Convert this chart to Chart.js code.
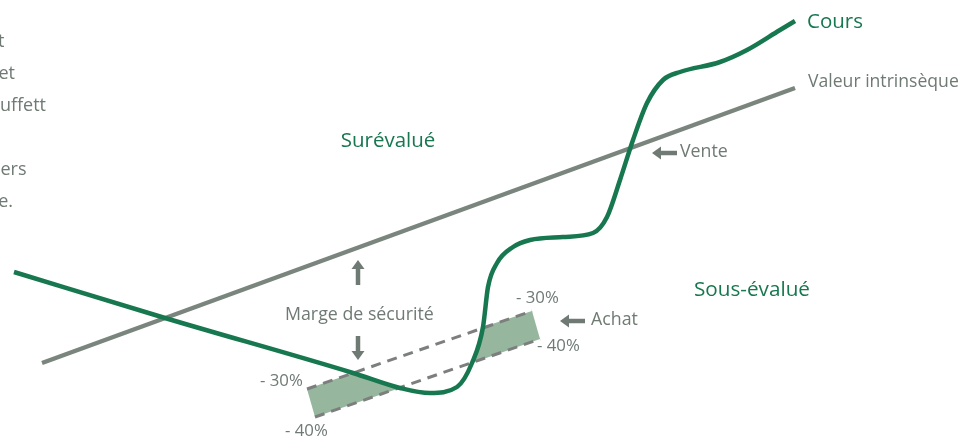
<!DOCTYPE html>
<html lang="fr">
<head>
    <meta charset="UTF-8">
    <title>Cours et valeur intrinsèque</title>
    <script src="https://cdn.jsdelivr.net/npm/chart.js"></script>
    <style>
        body { margin: 0; background: #ffffff; }
        .chart-container { position: relative; width: 976px; height: 437px; }
    </style>
</head>
<body>
    <div class="chart-container">
        <canvas id="myChart"></canvas>
    </div>
    <script type="text/javascript">
        // Cours (prix de marché) : temps / valeur
        const coursT = [14, 165, 353, 400, 430, 457, 472, 483, 488, 497, 513, 530, 563, 593, 607, 620, 633, 647, 663, 680, 720, 747, 780, 795];
        const coursValues = [165, 119, 64, 49, 44, 50, 74, 110, 150, 174, 190, 197, 200, 204, 220, 257, 297, 334, 357, 365, 375, 387, 407, 416];

        // Valeur intrinsèque
        const valeurT = [42, 795];
        const valeurValues = [74, 349];

        // Marge de sécurité : -30% et -40%
        const marge30T = [307, 532];
        const marge30Values = [48, 126];
        const marge40T = [315, 540];
        const marge40Values = [20, 98];

        // Zones d'achat (entre -30% et -40%)
        const zone1T = [307, 353, 400, 315, 307];
        const zone1Values = [48, 64, 49, 20, 48];
        const zone2T = [472, 483, 532, 540, 472];
        const zone2Values = [74, 110, 126, 98, 74];

        const VERT = '#17774f';
        const GRIS = '#7a857e';
        const TEXTE = '#6f7a74';
        const POLICE = '"Open Sans", sans-serif';

        const pts = (xs, ys) => xs.map((x, i) => ({ x: x, y: ys[i] }));

        // textes et flèches, en unités du graphique
        const textes = [
            { t: 'Cours', x: 807, y: 415, c: VERT, s: 20.5, a: 'left' },
            { t: 'Valeur intrinsèque', x: 808, y: 355, c: TEXTE, s: 17.6, a: 'left' },
            { t: 'Surévalué', x: 388, y: 296, c: VERT, s: 20.5, a: 'center' },
            { t: 'Sous-évalué', x: 694, y: 147, c: VERT, s: 20.7, a: 'left' },
            { t: 'Marge de sécurité', x: 285, y: 122, c: TEXTE, s: 17.8, a: 'left' },
            { t: 'Vente', x: 680, y: 285, c: TEXTE, s: 17.8, a: 'left' },
            { t: 'Achat', x: 591, y: 117, c: TEXTE, s: 17.8, a: 'left' },
            { t: '- 30%', x: 260, y: 56, c: TEXTE, s: 16.8, a: 'left' },
            { t: '- 40%', x: 285, y: 6, c: TEXTE, s: 16.8, a: 'left' },
            { t: '- 30%', x: 516, y: 139, c: TEXTE, s: 16.8, a: 'left' },
            { t: '- 40%', x: 537, y: 91, c: TEXTE, s: 16.8, a: 'left' },
            // paragraphe coupé à gauche
            { t: 't', x: 4.5, y: 395, c: TEXTE, s: 18, a: 'right' },
            { t: 'et', x: 15, y: 363, c: TEXTE, s: 18, a: 'right' },
            { t: 'Buffett', x: 46, y: 331, c: TEXTE, s: 18, a: 'right' },
            { t: 'ers', x: 26.5, y: 267, c: TEXTE, s: 18, a: 'right' },
            { t: 'e.', x: 13, y: 235, c: TEXTE, s: 18, a: 'right' }
        ];
        const fleches = [
            { x1: 358, y1: 152, x2: 358, y2: 177 },
            { x1: 358, y1: 101, x2: 358, y2: 77 },
            { x1: 677, y1: 284, x2: 652, y2: 284 },
            { x1: 585, y1: 116, x2: 560, y2: 116 }
        ];

        const annotations = {
            id: 'annotations',
            afterDatasetsDraw(chart) {
                const ctx = chart.ctx;
                const sx = chart.scales.x, sy = chart.scales.y;
                ctx.save();
                ctx.textBaseline = 'middle';
                textes.forEach(l => {
                    ctx.font = l.s + 'px ' + POLICE;
                    ctx.fillStyle = l.c;
                    ctx.textAlign = l.a;
                    ctx.fillText(l.t, sx.getPixelForValue(l.x), sy.getPixelForValue(l.y));
                });
                ctx.fillStyle = TEXTE;
                ctx.strokeStyle = TEXTE;
                fleches.forEach(f => {
                    const x1 = sx.getPixelForValue(f.x1), y1 = sy.getPixelForValue(f.y1);
                    const x2 = sx.getPixelForValue(f.x2), y2 = sy.getPixelForValue(f.y2);
                    const ang = Math.atan2(y2 - y1, x2 - x1);
                    const tete = 9, larg = 6.5;
                    const bx = x2 - tete * Math.cos(ang), by = y2 - tete * Math.sin(ang);
                    ctx.lineWidth = 4.5;
                    ctx.beginPath();
                    ctx.moveTo(x1, y1);
                    ctx.lineTo(bx, by);
                    ctx.stroke();
                    ctx.beginPath();
                    ctx.moveTo(x2, y2);
                    ctx.lineTo(bx + larg * Math.sin(ang), by - larg * Math.cos(ang));
                    ctx.lineTo(bx - larg * Math.sin(ang), by + larg * Math.cos(ang));
                    ctx.closePath();
                    ctx.fill();
                });
                ctx.restore();
            }
        };

        const ctx = document.getElementById('myChart').getContext('2d');
        const myChart = new Chart(ctx, {
            type: 'line',
            data: {
                datasets: [
                    {
                        label: 'Cours',
                        data: pts(coursT, coursValues),
                        borderColor: VERT,
                        borderWidth: 4.5,
                        cubicInterpolationMode: 'monotone',
                        pointRadius: 0,
                        fill: false,
                        order: 0
                    },
                    {
                        label: 'Valeur intrinsèque',
                        data: pts(valeurT, valeurValues),
                        borderColor: GRIS,
                        borderWidth: 4.5,
                        pointRadius: 0,
                        fill: false,
                        order: 1
                    },
                    {
                        label: '- 30%',
                        data: pts(marge30T, marge30Values),
                        borderColor: '#7c7f7d',
                        borderWidth: 3,
                        borderDash: [10, 7],
                        pointRadius: 0,
                        fill: false,
                        order: 2
                    },
                    {
                        label: '- 40%',
                        data: pts(marge40T, marge40Values),
                        borderColor: '#7c7f7d',
                        borderWidth: 3,
                        borderDash: [10, 7],
                        pointRadius: 0,
                        fill: false,
                        order: 2
                    },
                    {
                        label: 'zone1',
                        data: pts(zone1T, zone1Values),
                        borderWidth: 0,
                        borderColor: 'rgba(0,0,0,0)',
                        backgroundColor: '#96b79e',
                        pointRadius: 0,
                        fill: 'shape',
                        order: 3
                    },
                    {
                        label: 'zone2',
                        data: pts(zone2T, zone2Values),
                        borderWidth: 0,
                        borderColor: 'rgba(0,0,0,0)',
                        backgroundColor: '#96b79e',
                        pointRadius: 0,
                        fill: 'shape',
                        order: 3
                    }
                ]
            },
            options: {
                responsive: true,
                maintainAspectRatio: false,
                animation: false,
                layout: { padding: 0 },
                scales: {
                    x: { type: 'linear', min: 0, max: 976, display: false },
                    y: { type: 'linear', min: 0, max: 437, display: false }
                },
                plugins: {
                    legend: { display: false },
                    tooltip: { enabled: false }
                }
            },
            plugins: [annotations]
        });
    </script>
</body>
</html>
